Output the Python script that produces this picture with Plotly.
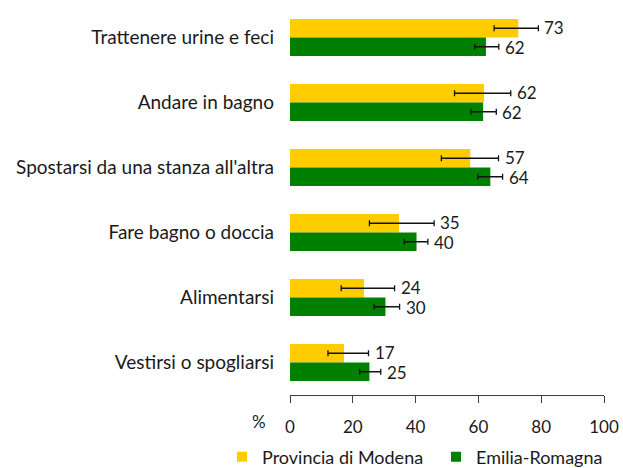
import plotly.graph_objects as go

categories = ["Trattenere urine e feci", "Andare in bagno", "Spostarsi da una stanza all'altra",
              "Fare bagno o doccia", "Alimentarsi", "Vestirsi o spogliarsi"]
modena = [72.7, 61.8, 57.4, 34.7, 23.6, 17.2]
modena_lo = [65.0, 52.4, 48.2, 25.3, 16.3, 12.1]
modena_hi = [79.1, 70.3, 66.4, 45.9, 33.3, 25.0]
modena_labels = ["73", "62", "57", "35", "24", "17"]
er = [62.4, 61.5, 63.8, 40.3, 30.4, 25.3]
er_lo = [58.8, 57.6, 59.8, 36.4, 26.8, 22.2]
er_hi = [66.5, 65.7, 67.7, 43.9, 34.9, 28.9]
er_labels = ["62", "62", "64", "40", "30", "25"]
x_ticks = [0, 20, 40, 60, 80, 100]

YELLOW = "#FFCC00"
GREEN = "#008000"
FONT = "Lato"
TXT = "#1a1a1a"

fig = go.Figure()
series = [("Provincia di Modena", modena, modena_lo, modena_hi, modena_labels, YELLOW, "legend"),
          ("Emilia-Romagna", er, er_lo, er_hi, er_labels, GREEN, "legend2")]
for name, vals, lo, hi, labels, col, leg in series:
    fig.add_trace(go.Bar(
        y=categories, x=vals, orientation="h", name=name,
        marker=dict(color=col, line=dict(width=0)),
        error_x=dict(type="data", symmetric=False,
                     array=[h - v for h, v in zip(hi, vals)],
                     arrayminus=[v - l for v, l in zip(vals, lo)],
                     color="#111111", thickness=1.3, width=3),
        showlegend=False,
    ))
    fig.add_trace(go.Scatter(x=[None], y=[None], mode="markers", name=name, legend=leg,
                             marker=dict(symbol="square", size=10, color=col)))

# value labels at end of error bars
for tr_i, (labels, hi) in enumerate([(modena_labels, modena_hi), (er_labels, er_hi)]):
    for cat, lab, h in zip(categories, labels, hi):
        fig.add_annotation(x=h, y=cat, text=lab, showarrow=False,
                           xanchor="left", xshift=4,
                           yshift=10 if tr_i == 0 else -10,
                           font=dict(family=FONT, size=17, color=TXT))

fig.add_annotation(x=0, y=0, xref="paper", yref="paper", text="%", showarrow=False,
                   xanchor="center", yanchor="middle", xshift=-31, yshift=-26,
                   font=dict(family=FONT, size=17, color=TXT))

legfont = dict(family=FONT, size=18, color=TXT)
fig.update_layout(
    width=623, height=468,
    margin=dict(l=290, r=19, t=5, b=73, autoexpand=False),
    paper_bgcolor="white", plot_bgcolor="white",
    barmode="group", bargap=0.43, bargroupgap=0,
    font=dict(family=FONT, size=16, color=TXT),
    xaxis=dict(range=[0, 100], tickvals=x_ticks, showgrid=False, zeroline=False,
               showline=True, linecolor="#404040", linewidth=1,
               ticks="outside", ticklen=7, tickcolor="#404040", automargin=False,
               tickfont=dict(family=FONT, size=17, color=TXT), ticklabelstandoff=10),
    yaxis=dict(autorange="reversed", showgrid=False, zeroline=False, showline=False,
               ticks="", ticklabelstandoff=15, automargin=False,
               tickfont=dict(family=FONT, size=19, color=TXT)),
    legend=dict(orientation="h", xref="container", yref="container",
                x=222 / 623, y=1 - 457 / 468, xanchor="left", yanchor="middle",
                font=legfont, bgcolor="rgba(0,0,0,0)"),
    legend2=dict(orientation="h", xref="container", yref="container",
                 x=436 / 623, y=1 - 457 / 468, xanchor="left", yanchor="middle",
                 font=legfont, bgcolor="rgba(0,0,0,0)"),
)
fig.write_html("out.html", config={"displayModeBar": False},
               post_script="document.body.style.margin='0';document.body.style.overflow='hidden';")
